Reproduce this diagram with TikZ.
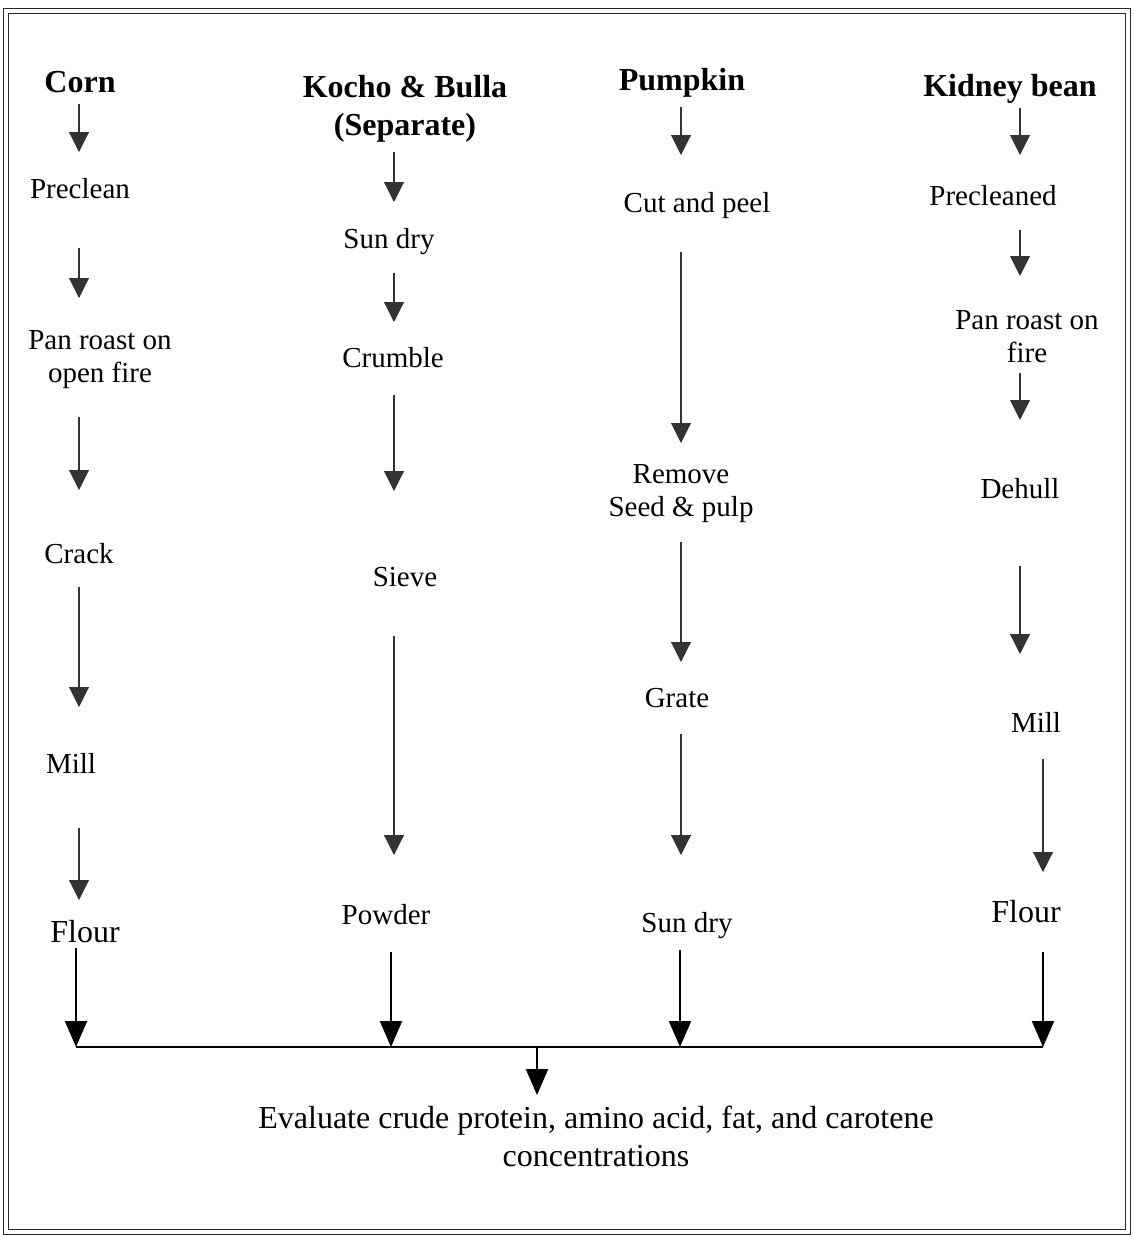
\documentclass[tikz,border=0pt]{standalone}
\usepackage{fontspec}
\setmainfont{Liberation Serif}
\usetikzlibrary{arrows.meta, calc}

\newcommand{\stagefont}{\fontsize{29}{33}\selectfont}
\newcommand{\bigfont}{\fontsize{32}{38}\selectfont}
\newcommand{\headfont}{\fontsize{32}{38}\selectfont\bfseries}

\begin{document}
\begin{tikzpicture}[x=1pt, y=-1pt,
    stage/.style={inner sep=0pt, anchor=base, align=center, font=\stagefont},
    head/.style={inner sep=0pt, anchor=base, align=center, font=\headfont},
    flow/.style={-{Triangle[width=20pt,length=20pt]}, line width=1.1pt, black!80},
    feed/.style={-{Triangle[width=22pt,length=26pt]}, line width=2.2pt, black},
    frame/.style={double=white, double distance=3.5pt, line width=1.5pt, black!85}]
      \useasboundingbox (0,0) rectangle (1133,1237);
      \draw[frame] (6,11) rectangle (1128,1232);

      % Columns
      \coordinate (cA) at (79,0);
      \coordinate (cB) at (394,0);
      \coordinate (cC) at (681,0);
      \coordinate (cD) at (1020,0);
      \coordinate (cE) at (1043,0);

      % Nodes (base = last line)
      \node[head]  (corn)     at (80,92)   {Corn};
      \node[stage] (preclean) at (80,198)  {Preclean};
      \node[stage] (roastA)   at (100,382) {Pan roast on\\open fire};
      \node[stage] (crack)    at (79,563)  {Crack};
      \node[stage] (millA)    at (71,773)  {Mill};
      \node[stage, font=\bigfont] (flourA) at (85,942) {Flour};

      \node[head]  (kocho)    at (405,135) {Kocho \& Bulla\\(Separate)};
      \node[stage] (sundryB)  at (389,248) {Sun dry};
      \node[stage] (crumble)  at (393,367) {Crumble};
      \node[stage] (sieve)    at (405,586) {Sieve};
      \node[stage] (powder)   at (386,924) {Powder};

      \node[head]  (pumpkin)  at (682,90)  {Pumpkin};
      \node[stage] (cutpeel)  at (697,212) {Cut and peel};
      \node[stage] (remove)   at (681,516) {Remove\\Seed \& pulp};
      \node[stage] (grate)    at (677,707) {Grate};
      \node[stage] (sundryC)  at (687,932) {Sun dry};

      \node[head]  (kidney)   at (1010,96)  {Kidney bean};
      \node[stage] (precleaned) at (993,205) {Precleaned};
      \node[stage] (roastD)   at (1027,362) {Pan roast on\\fire};
      \node[stage] (dehull)   at (1020,498) {Dehull};
      \node[stage] (millD)    at (1036,732) {Mill};
      \node[stage, font=\bigfont] (flourD) at (1026,922) {Flour};

      \node[stage, font=\bigfont] (evalT) at (596,1166)
        {Evaluate crude protein, amino acid, fat, and carotene\\concentrations};

      % Join points
      \coordinate (jL) at (76,1047);
      \coordinate (jB) at (391,1047);
      \coordinate (jM) at (537,1047);
      \coordinate (jC) at (680,1047);
      \coordinate (jR) at (1043,1047);

      % Corn
      \draw[flow, shorten <=12pt, shorten >=46pt] (corn.base -| cA) -- (preclean.base -| cA);
      \draw[flow, shorten <=50pt, shorten >=84pt] (preclean.base -| cA) -- (roastA.base -| cA);
      \draw[flow, shorten <=35pt, shorten >=73pt] (roastA.base -| cA) -- (crack.base -| cA);
      \draw[flow, shorten <=24pt, shorten >=66pt] (crack.base -| cA) -- (millA.base -| cA);
      \draw[flow, shorten <=55pt, shorten >=42pt] (millA.base -| cA) -- (flourA.base -| cA);
      \draw[feed, shorten <=6pt] (flourA.base -| jL) -- (jL);

      % Kocho & Bulla
      \draw[flow, shorten <=17pt, shorten >=46pt] (kocho.base -| cB) -- (sundryB.base -| cB);
      \draw[flow, shorten <=25pt, shorten >=45pt] (sundryB.base -| cB) -- (crumble.base -| cB);
      \draw[flow, shorten <=28pt, shorten >=95pt] (crumble.base -| cB) -- (sieve.base -| cB);
      \draw[flow, shorten <=50pt, shorten >=69pt] (sieve.base -| cB) -- (powder.base -| cB);
      \draw[feed, shorten <=28pt] (powder.base -| jB) -- (jB);

      % Pumpkin
      \draw[flow, shorten <=17pt, shorten >=57pt] (pumpkin.base -| cC) -- (cutpeel.base -| cC);
      \draw[flow, shorten <=40pt, shorten >=73pt] (cutpeel.base -| cC) -- (remove.base -| cC);
      \draw[flow, shorten <=26pt, shorten >=45pt] (remove.base -| cC) -- (grate.base -| cC);
      \draw[flow, shorten <=27pt, shorten >=77pt] (grate.base -| cC) -- (sundryC.base -| cC);
      \draw[feed, shorten <=18pt] (sundryC.base -| jC) -- (jC);

      % Kidney bean
      \draw[flow, shorten <=12pt, shorten >=50pt] (kidney.base -| cD) -- (precleaned.base -| cD);
      \draw[flow, shorten <=25pt, shorten >=86pt] (precleaned.base -| cD) -- (roastD.base -| cD);
      \draw[flow, shorten <=11pt, shorten >=78pt] (roastD.base -| cD) -- (dehull.base -| cD);
      \draw[flow, shorten <=68pt, shorten >=78pt] (dehull.base -| cD) -- (millD.base -| cD);
      \draw[flow, shorten <=27pt, shorten >=50pt] (millD.base -| cE) -- (flourD.base -| cE);
      \draw[feed, shorten <=30pt] (flourD.base -| jR) -- (jR);

      % Bottom
      \draw[line width=2pt] (jL) -- (jR);
      \draw[feed, shorten >=71pt] (jM) -- (evalT.base -| jM);
\end{tikzpicture}
\end{document}
